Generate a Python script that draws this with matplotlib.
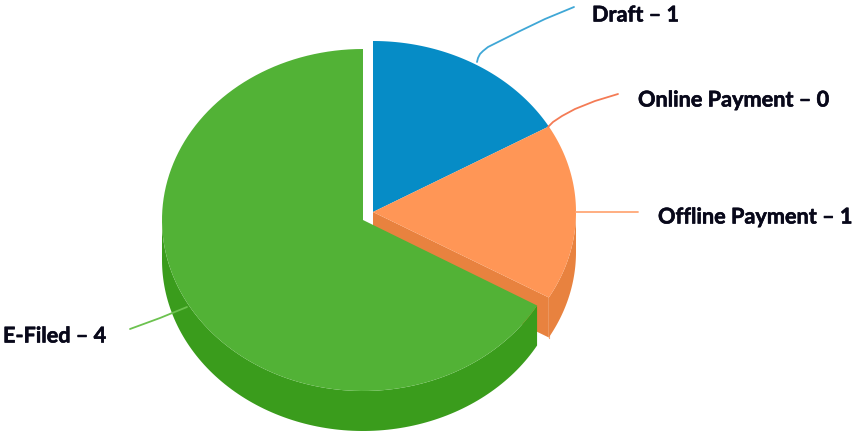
import numpy as np
import matplotlib
matplotlib.use("Agg")
import matplotlib.pyplot as plt
import matplotlib.patheffects as pe

# dane wykresu
categories = ["Draft", "Online Payment", "Offline Payment", "E-Filed"]
values = [1, 0, 1, 4]

top_colors = ["#068CC6", "#F47B55", "#FF9656", "#52B236"]
side_colors = ["#056FA0", "#D9653F", "#E8823F", "#3A9C1C"]
line_colors = ["#3FA7D6", "#F47B55", "#FFA877", "#6CC24F"]

# srodki wycinkow w pikselach (zielony jest odsuniety)
centers = [(373, 212), (373, 212), (373, 212), (363, 220)]
radii_x = [203, 203, 203, 201]
RY = 171
DEPTH = 40


def arc(center, rx, a1, a2, n=120):
    t = np.radians(np.linspace(a1, a2, n))
    return center[0] + rx * np.cos(t), center[1] - RY * np.sin(t)


def draw_slice(ax, center, rx, a1, a2, top, side, z):
    cx, cy = center
    # przekroj od strony konca wycinka, widoczny tylko w dolnej polowie
    if -180 < a2 < 0:
        ex, ey = arc(center, rx, a2, a2, 1)
        ax.fill([cx, ex[0], ex[0], cx], [cy, ey[0], ey[0] + DEPTH, cy + DEPTH],
                color=side, lw=0, zorder=z)
        ax.plot([ex[0], ex[0]], [ey[0], ey[0] + DEPTH], color="#F5A878", lw=0.8, zorder=z)
    # sciana boczna - tylko dolna polowa elipsy
    lo = max(a2, -180)
    hi = min(a1, 0)
    if hi > lo:
        x, y = arc(center, rx, hi, lo)
        ax.fill(np.r_[x, x[::-1]], np.r_[y, y[::-1] + DEPTH], color=side, lw=0, zorder=z)
    x, y = arc(center, rx, a1, a2)
    ax.fill(np.r_[cx, x], np.r_[cy, y], color=top, lw=0, zorder=z + 1)


fig = plt.figure(figsize=(8.54, 4.33), dpi=100)
ax = fig.add_axes([0, 0, 1, 1])
ax.set_xlim(0, 854)
ax.set_ylim(433, 0)
ax.axis("off")

total = sum(values)
angle = 90.0
for i, v in enumerate(values):
    sweep = 360.0 * v / total
    if v > 0:
        draw_slice(ax, centers[i], radii_x[i], angle, angle - sweep,
                   top_colors[i], side_colors[i], 2 + i)
    angle -= sweep

# linie prowadzace
leaders = [
    ([477, 478, 480, 483, 488, 500, 520, 545, 574], [62, 58, 54, 51, 47, 41, 31, 19, 7]),
    ([548, 553, 562, 575, 595, 618], [127, 122, 116, 109, 101, 94]),
    ([576, 638], [212, 212]),
    ([187, 160, 130], [307, 318, 329]),
]
for (lx, ly), c in zip(leaders, line_colors):
    ax.plot(lx, ly, color=c, lw=1.3, zorder=10, solid_capstyle="round")

label_pos = [(592, 15), (638, 100), (658, 217), (3, 336)]
for name, v, (tx, ty) in zip(categories, values, label_pos):
    ax.text(tx, ty, f"{name} – {v}", family="Lato", weight="bold", fontsize=15.6,
            color="#08081A", ha="left", va="center", zorder=11,
            path_effects=[pe.withStroke(linewidth=0.4, foreground="#08081A")])

fig.savefig("out.png", dpi=100, facecolor="white")
